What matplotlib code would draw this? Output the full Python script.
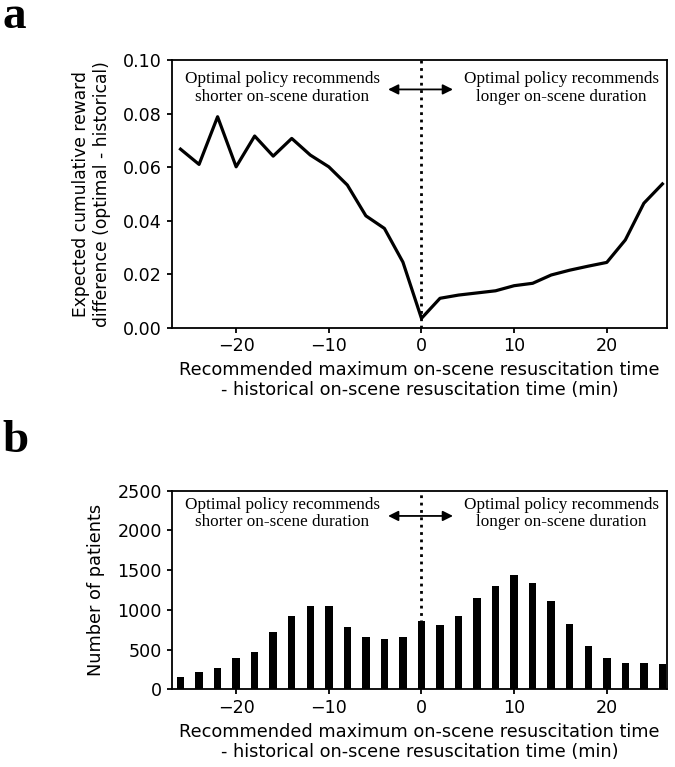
import matplotlib
matplotlib.use('Agg')
import matplotlib.pyplot as plt

# x positions (min), shared by both panels
time_diff = [-26, -24, -22, -20, -18, -16, -14, -12, -10, -8, -6, -4, -2,
             0, 2, 4, 6, 8, 10, 12, 14, 16, 18, 20, 22, 24, 26]

# panel a: expected cumulative reward difference
reward_diff = [0.0667, 0.0610, 0.0788, 0.0601, 0.0716, 0.0641, 0.0707, 0.0645,
               0.0601, 0.0533, 0.0418, 0.0371, 0.0245,
               0.0035, 0.0110, 0.0122, 0.0130, 0.0138, 0.0157, 0.0166, 0.0197,
               0.0215, 0.0230, 0.0244, 0.0328, 0.0465, 0.0537]

# panel b: number of patients
n_patients = [152, 219, 266, 396, 464, 725, 919, 1050, 1050, 788, 658, 630, 658,
              856, 805, 919, 1151, 1299, 1442, 1341, 1117, 826, 544, 400, 337,
              337, 316]

xlabel = ('Recommended maximum on-scene resuscitation time\n'
          '- historical on-scene resuscitation time (min)')
left_note = 'Optimal policy recommends\nshorter on-scene duration'
right_note = 'Optimal policy recommends\nlonger on-scene duration'

plt.rcParams['font.family'] = 'DejaVu Sans'
plt.rcParams['font.size'] = 12
plt.rcParams['xtick.labelsize'] = 12.6
plt.rcParams['ytick.labelsize'] = 12.6
plt.rcParams['axes.linewidth'] = 1.3
plt.rcParams['xtick.major.width'] = 1.3
plt.rcParams['ytick.major.width'] = 1.3

fig = plt.figure(figsize=(6.75, 7.67), dpi=100)
ax1 = fig.add_axes([0.2544, 0.5727, 0.7338, 0.3491])
ax2 = fig.add_axes([0.2544, 0.1013, 0.7338, 0.2589])


def decorate(ax, text_y, arrow_y):
    ax.axvline(0, color='black', linestyle=':', linewidth=2)
    ax.text(-15, text_y, left_note, transform=ax.get_xaxis_transform(),
            ha='center', va='center', family='Liberation Serif', fontsize=12.3,
            linespacing=1.1)
    ax.text(15.1, text_y, right_note, transform=ax.get_xaxis_transform(),
            ha='center', va='center', family='Liberation Serif', fontsize=12.3,
            linespacing=1.1)
    ax.annotate('', xy=(-3.9, arrow_y), xytext=(3.7, arrow_y),
                xycoords=ax.get_xaxis_transform(),
                arrowprops=dict(arrowstyle='<|-|>', color='black', lw=1.3,
                                mutation_scale=15))
    ax.set_xlim(-26.95, 26.5)
    ax.set_xticks([-20, -10, 0, 10, 20])
    ax.set_xlabel(xlabel, labelpad=4, fontsize=12.8, linespacing=1.15)


# panel a
ax1.plot(time_diff, reward_diff, color='black', linewidth=2.3)
ax1.set_ylim(0, 0.10)
ax1.set_yticks([0.00, 0.02, 0.04, 0.06, 0.08, 0.10])
ax1.set_ylabel('Expected cumulative reward\ndifference (optimal - historical)',
               labelpad=9, fontsize=12.3)
decorate(ax1, 0.895, 0.89)

# panel b
ax2.bar(time_diff, n_patients, width=0.8, color='black')
ax2.set_ylim(0, 2500)
ax2.set_yticks([0, 500, 1000, 1500, 2000, 2500])
ax2.set_ylabel('Number of patients', labelpad=9, fontsize=12.8)
decorate(ax2, 0.885, 0.873)

fig.text(0.004, 0.9635, 'a', family='Liberation Serif', fontweight='bold',
         fontsize=34)
fig.text(0.004, 0.4107, 'b', family='Liberation Serif', fontweight='bold',
         fontsize=34)

fig.savefig('out.png', dpi=100)
